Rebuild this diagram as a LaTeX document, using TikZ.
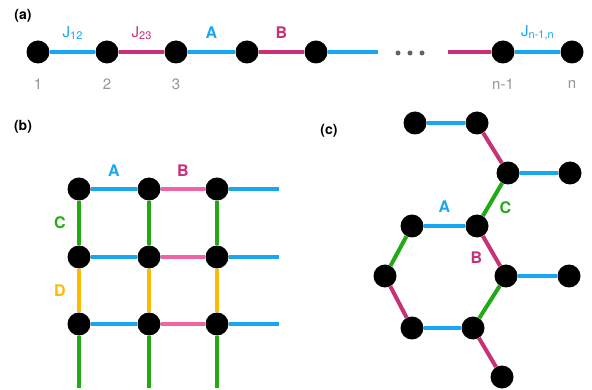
\documentclass[tikz,border=0pt]{standalone}
\usepackage{fontspec}
\setmainfont{TeX Gyre Heros}

\definecolor{jblue}{RGB}{22,166,242}
\definecolor{jmagenta}{RGB}{200,48,120}
\definecolor{jpink}{RGB}{240,100,165}
\definecolor{jgreen}{RGB}{34,170,20}
\definecolor{jyellow}{RGB}{255,185,0}
\definecolor{numgray}{RGB}{150,150,150}
\definecolor{dotgray}{RGB}{100,100,100}

\newcommand{\jsub}[1]{\raisebox{-2.5pt}{\fontsize{11}{11}\selectfont #1}}

\begin{document}
\begin{tikzpicture}[
    x=1pt, y=-1pt,
    site/.style={
      circle,
      fill=black,
      minimum size=23pt,
      inner sep=0pt
    },
    dot/.style={
      circle,
      fill=dotgray,
      minimum size=5pt,
      inner sep=0pt
    },
    bond/.style={draw, line width=4pt},
    panel/.style={font=\fontsize{14}{16}\selectfont\bfseries},
    coupling/.style={font=\fontsize{15}{17}\selectfont},
    bondname/.style={font=\fontsize{16}{18}\selectfont\bfseries},
    sitenum/.style={font=\fontsize{15}{17}\selectfont, text=numgray},
  ]

  \useasboundingbox (0,0) rectangle (592,390);

  %%%%%%%%%%%%%%%%%%%%%%%%%%%%%%%%%%%%%%%%%%%%%%
  %%%%%%%%%%%%%%%% (a) CHAIN %%%%%%%%%%%%%%%%%%%
  %%%%%%%%%%%%%%%%%%%%%%%%%%%%%%%%%%%%%%%%%%%%%%
    \node[panel] (label-a) at (23,16) {(a)};

    \node[site] (a1) at (38,52) {};
    \node[site] (a2) at (107,52) {};
    \node[site] (a3) at (176,52) {};
    \node[site] (a4) at (247,52) {};
    \node[site] (a5) at (316,52) {};
    \node[site] (an1) at (503,52) {};
    \node[site] (an) at (572,52) {};

    \node[dot] (dot1) at (398,53) {};
    \node[dot] (dot2) at (410,53) {};
    \node[dot] (dot3) at (422,53) {};

    \node[sitenum] (num1) at (38,84) {1};
    \node[sitenum] (num2) at (107,84) {2};
    \node[sitenum] (num3) at (176,84) {3};
    \node[sitenum] (numn1) at (503,84) {n-1};
    \node[sitenum] (numn) at (572,84) {n};

	%%%%%%%%%%%%%%%% HELPING NODES %%%%%%%%%%%%%%%%%%%
	\coordinate (a5-dots) at (378,52);
	\coordinate (dots-an1) at (448,52);

	%%%%%%%%%%%%%%%%%% PATHS %%%%%%%%%%%%%%%%%%%%%%%
	\path [bond, jblue] (a1) -- (a2) node[coupling, midway, yshift=19pt] {J\jsub{12}};
	\path [bond, jmagenta] (a2) -- (a3) node[coupling, midway, yshift=19pt] {J\jsub{23}};
	\path [bond, jblue] (a3) -- (a4) node[bondname, midway, yshift=19pt] {A};
	\path [bond, jmagenta] (a4) -- (a5) node[bondname, midway, yshift=19pt] {B};
	\path [bond, jblue] (a5) -- (a5-dots) {};
	\path [bond, jmagenta] (dots-an1) -- (an1) {};
	\path [bond, jblue] (an1) -- (an) node[coupling, midway, yshift=19pt] {J\jsub{n-1,n}};

  %%%%%%%%%%%%%%%%%%%%%%%%%%%%%%%%%%%%%%%%%%%%%%
  %%%%%%%%%%%%%%%% (b) SQUARE %%%%%%%%%%%%%%%%%%
  %%%%%%%%%%%%%%%%%%%%%%%%%%%%%%%%%%%%%%%%%%%%%%
    \node[panel] (label-b) at (23,127) {(b)};

    \node[site] (b11) at (79,189) {};
    \node[site] (b12) at (149,189) {};
    \node[site] (b13) at (217,189) {};
    \node[site] (b21) at (79,257) {};
    \node[site] (b22) at (149,257) {};
    \node[site] (b23) at (217,257) {};
    \node[site] (b31) at (79,324) {};
    \node[site] (b32) at (149,324) {};
    \node[site] (b33) at (217,324) {};

	%%%%%%%%%%%%%%%% HELPING NODES %%%%%%%%%%%%%%%%%%%
	\coordinate (b1-right) at (279,189);
	\coordinate (b2-right) at (279,257);
	\coordinate (b3-right) at (279,324);
	\coordinate (b1-down) at (79,388);
	\coordinate (b2-down) at (149,388);
	\coordinate (b3-down) at (217,388);

	%%%%%%%%%%%%%%%%%% PATHS %%%%%%%%%%%%%%%%%%%%%%%
	\path [bond, jblue] (b11) -- (b12) node[bondname, midway, yshift=18pt] {A};
	\path [bond, jpink] (b12) -- (b13) node[bondname, jmagenta, midway, yshift=18pt] {B};
	\path [bond, jblue] (b13) -- (b1-right) {};
	\path [bond, jblue] (b21) -- (b22) {};
	\path [bond, jpink] (b22) -- (b23) {};
	\path [bond, jblue] (b23) -- (b2-right) {};
	\path [bond, jblue] (b31) -- (b32) {};
	\path [bond, jpink] (b32) -- (b33) {};
	\path [bond, jblue] (b33) -- (b3-right) {};

	\path [bond, jgreen] (b11) -- (b21) node[bondname, midway, xshift=-19pt] {C};
	\path [bond, jgreen] (b12) -- (b22) {};
	\path [bond, jgreen] (b13) -- (b23) {};
	\path [bond, jyellow] (b21) -- (b31) node[bondname, midway, xshift=-19pt] {D};
	\path [bond, jyellow] (b22) -- (b32) {};
	\path [bond, jyellow] (b23) -- (b33) {};
	\path [bond, jgreen] (b31) -- (b1-down) {};
	\path [bond, jgreen] (b32) -- (b2-down) {};
	\path [bond, jgreen] (b33) -- (b3-down) {};

  %%%%%%%%%%%%%%%%%%%%%%%%%%%%%%%%%%%%%%%%%%%%%%
  %%%%%%%%%%%%%%%% (c) HONEYCOMB %%%%%%%%%%%%%%%
  %%%%%%%%%%%%%%%%%%%%%%%%%%%%%%%%%%%%%%%%%%%%%%
    \node[panel] (label-c) at (329,131) {(c)};

    \node[site] (c1) at (415,123) {};
    \node[site] (c2) at (477,123) {};
    \node[site] (c3) at (508,173) {};
    \node[site] (c4) at (570,173) {};
    \node[site] (c5) at (412,226) {};
    \node[site] (c6) at (477,226) {};
    \node[site] (c7) at (385,276) {};
    \node[site] (c8) at (506,276) {};
    \node[site] (c9) at (569,276) {};
    \node[site] (c10) at (412,328) {};
    \node[site] (c11) at (473,328) {};
    \node[site] (c12) at (502,377) {};

	%%%%%%%%%%%%%%%%%% PATHS %%%%%%%%%%%%%%%%%%%%%%%
	\path [bond, jblue] (c1) -- (c2) {};
	\path [bond, jmagenta] (c2) -- (c3) {};
	\path [bond, jblue] (c3) -- (c4) {};
	\path [bond, jgreen] (c6) -- (c3) node[bondname, midway, xshift=13pt, yshift=-8pt] {C};
	\path [bond, jblue] (c5) -- (c6) node[bondname, midway, yshift=19pt] {A};
	\path [bond, jmagenta] (c6) -- (c8) node[bondname, midway, xshift=-15pt, yshift=-7pt] {B};
	\path [bond, jblue] (c8) -- (c9) {};
	\path [bond, jgreen] (c8) -- (c11) {};
	\path [bond, jblue] (c11) -- (c10) {};
	\path [bond, jmagenta] (c10) -- (c7) {};
	\path [bond, jgreen] (c7) -- (c5) {};
	\path [bond, jmagenta] (c11) -- (c12) {};

  \end{tikzpicture}
\end{document}
